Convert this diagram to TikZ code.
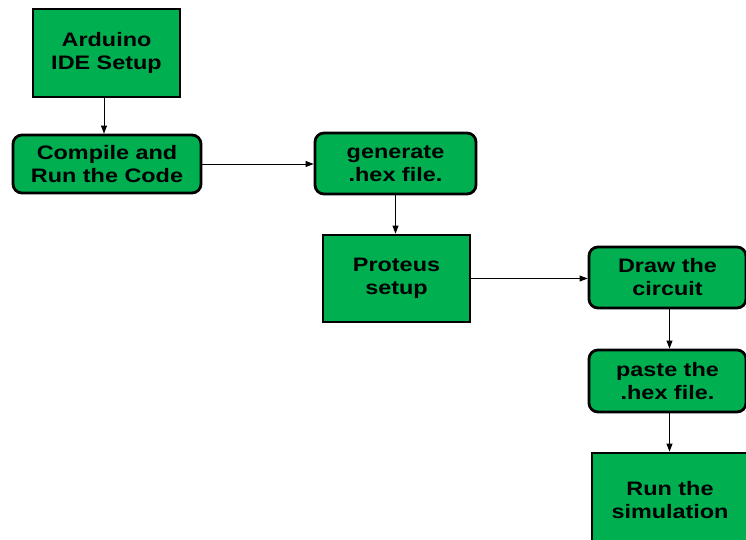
\documentclass[tikz,border=0pt]{standalone}
\usepackage{fontspec}
\setmainfont[FakeStretch=1.2]{Liberation Sans}
\usetikzlibrary{arrows.meta}
\definecolor{boxgreen}{HTML}{00B050}
\begin{document}
\begin{tikzpicture}[x=1pt,y=-1pt,
  base/.style={draw=black, line width=2.8pt, fill=boxgreen, align=center,
    font=\fontsize{19.5}{23}\selectfont\bfseries, inner sep=0pt},
  sq/.style={base},
  rnd/.style={base, rounded corners=9pt},
  conn/.style={line width=0.9pt, -{Triangle[length=8pt,width=6pt]}}]
\useasboundingbox (0,0) rectangle (746,540);
\clip (0,0) rectangle (746,540);
\node[sq, minimum width=147pt, minimum height=88pt] (ard) at (106.5,53) {Arduino\\IDE Setup};
\node[rnd, minimum width=188pt, minimum height=58pt] (comp) at (107,164) {Compile and\\Run the Code};
\node[rnd, minimum width=161pt, minimum height=61pt] (gen) at (395.5,163.5) {generate\\.hex file.};
\node[sq, minimum width=147pt, minimum height=87pt] (prot) at (396.5,278.5) {Proteus\\setup};
\node[rnd, minimum width=157pt, minimum height=61pt] (draw) at (667.5,277.5) {Draw the\\circuit};
\node[rnd, minimum width=157pt, minimum height=62pt] (paste) at (667.5,381) {paste the\\.hex file.};
\node[sq, minimum width=156pt, minimum height=94pt] (run) at (670,500) {Run the\\simulation};
\draw[conn] ([xshift=-2.5pt]ard.south) -- ([xshift=-2.5pt]ard.south |- comp.north);
\draw[conn] (comp.east) -- (comp.east -| gen.west);
\draw[conn] (gen.south) -- (gen.south |- prot.north);
\draw[conn] (prot.east) -- (prot.east -| draw.west);
\draw[conn] ([xshift=2pt]draw.south) -- ([xshift=2pt]draw.south |- paste.north);
\draw[conn] ([xshift=2pt]paste.south) -- ([xshift=2pt]paste.south |- run.north);
\end{tikzpicture}
\end{document}
